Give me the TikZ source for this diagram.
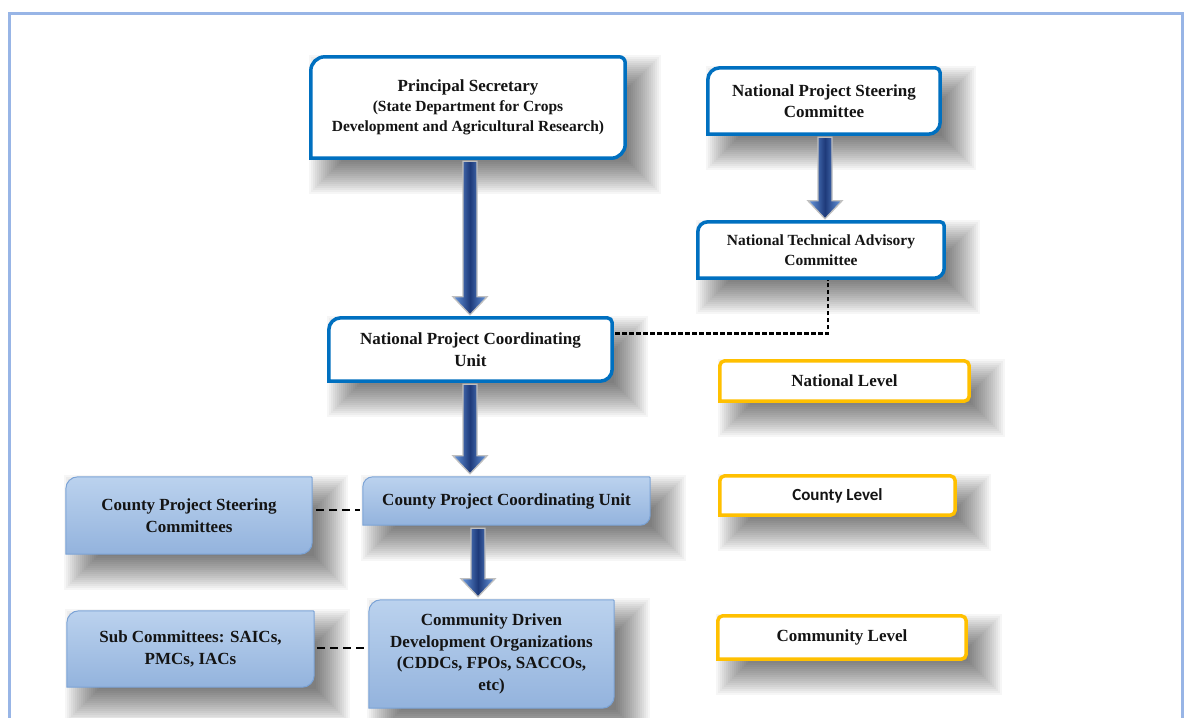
\documentclass[tikz,border=0pt]{standalone}
\usepackage{fontspec}
\setmainfont{Liberation Serif}
\newfontfamily\carl{Carlito}
\usetikzlibrary{calc}
\pgfdeclarelayer{shad}
\pgfdeclarelayer{boxes}
\pgfsetlayers{shad,boxes,main}
\definecolor{dblue}{HTML}{0070C0}
\definecolor{ybord}{HTML}{FFC000}
\definecolor{ltop}{HTML}{BBD2EE}
\definecolor{lbot}{HTML}{93B3DD}
\definecolor{lbord}{HTML}{7BA3D6}
\definecolor{frame}{HTML}{98B5E6}
\definecolor{aedge}{HTML}{6A9BE2}
\definecolor{amid}{HTML}{1E3A7A}
\newcommand\bxpath[3]{(#1.south west) -- ([yshift=-#2]#1.north west) arc[start angle=180,end angle=90,radius=#2] -- ([xshift=-#3]#1.north east) arc[start angle=90,end angle=0,radius=#3] -- ([yshift=#2]#1.south east) arc[start angle=0,end angle=-90,radius=#2] -- cycle}
\newcommand\softshadow[1]{%
  \foreach \kk in {0,...,17}{%
    \fill[black, opacity=0.035] let \p1=(#1.north west), \p2=(#1.south east) in
      (\x1-2pt+\kk*2pt, \y1+2pt-\kk*2pt) rectangle (\x2+36pt-\kk*2pt, \y2-36pt+\kk*2pt);}}
\newcommand\fatarrow[3]{%
  \path[fatarrowstyle] let \p1=(#1.south -| #3), \p2=(#2.north -| #3) in
  (\x1-7pt,\y1-3pt) -- (\x1+7pt,\y1-3pt) -- (\x1+7pt,\y2+21pt) -- (\x1+17pt,\y2+21pt)
  -- (\x1,\y2+3pt) -- (\x1-17pt,\y2+21pt) -- (\x1-7pt,\y2+21pt) -- cycle;}
\begin{document}
\begin{tikzpicture}[x=1pt,y=-1pt,
  base/.style={inner sep=0pt, align=center, text=black!92,
    font=\bfseries\fontsize{17}{21.5}\selectfont},
  darkbox/.style={draw=dblue, line width=3.5pt, fill=white},
  yellowbox/.style={draw=ybord, line width=3.5pt, fill=white},
  lightbox/.style={draw=lbord, line width=1pt, top color=ltop, bottom color=lbot},
  fatarrowstyle/.style={draw=gray!50, line width=1.3pt, line join=miter,
    left color=aedge, right color=aedge, middle color=amid},
  dashthin/.style={draw=black, line width=2.2pt, dash pattern=on 4.5pt off 2.5pt},
  dashthick/.style={draw=black, line width=2.6pt, dash pattern=on 8pt off 5pt}
]
\useasboundingbox (0,0) rectangle (1187,718);

% nodes
\node[base, minimum width=314pt, minimum height=101pt] (ps) at (468,107.5)
  {Principal Secretary\\[-2pt]
   {\fontsize{15.5}{19.5}\selectfont (State Department for Crops}\\[-1.5pt]
   {\fontsize{15.5}{19.5}\selectfont Development and Agricultural Research)}};
\node[base, minimum width=232pt, minimum height=66pt] (npsc) at (824,101)
  {National Project Steering\\Committee};
\node[base, minimum width=246pt, minimum height=56pt,
  font=\bfseries\fontsize{15.5}{20.5}\selectfont] (ntac) at (821,250)
  {National Technical Advisory\\Committee};
\node[base, minimum width=283pt, minimum height=63pt] (npcu) at (470.5,349.5)
  {National Project Coordinating\\Unit};
\node[base, minimum width=249pt, minimum height=40pt] (natl) at (844.5,381)
  {National Level};
\node[base, minimum width=235pt, minimum height=39pt,
  font=\carl\bfseries\fontsize{17}{20}\selectfont] (cntl) at (837.5,495.5)
  {County Level};
\node[base, minimum width=248pt, minimum height=43pt] (comml) at (842,637.5)
  {Community Level};
\node[base, minimum width=246pt, minimum height=77pt] (cpsc) at (189,515.5)
  {County Project Steering\\Committees};
\node[base, minimum width=287pt, minimum height=48pt] (cpcu) at (506.5,501)
  {County Project Coordinating Unit};
\node[base, minimum width=247pt, minimum height=76pt] (sub) at (190.5,649)
  {Sub Committees: SAICs,\\PMCs, IACs};
\node[base, minimum width=245pt, minimum height=108pt] (cddo) at (491.5,654)
  {Community Driven\\Development Organizations\\(CDDCs, FPOs, SACCOs,\\etc)};

% background and shadows
\begin{pgfonlayer}{shad}
\fill[white] (0,0) rectangle (1187,718);
\draw[frame, line width=3pt] (9,725) -- (9,13) -- (1182,13) -- (1182,725);
\softshadow{ps}
\softshadow{npsc}
\softshadow{ntac}
\softshadow{npcu}
\softshadow{natl}
\softshadow{cntl}
\softshadow{comml}
\softshadow{cpsc}
\softshadow{cpcu}
\softshadow{sub}
\softshadow{cddo}
\end{pgfonlayer}

% boxes
\begin{pgfonlayer}{boxes}
\path[darkbox] \bxpath{ps}{14pt}{6pt};
\path[darkbox] \bxpath{npsc}{12pt}{5pt};
\path[darkbox] \bxpath{ntac}{10pt}{4pt};
\path[darkbox] \bxpath{npcu}{12pt}{5pt};
\path[yellowbox] \bxpath{natl}{5pt}{5pt};
\path[yellowbox] \bxpath{cntl}{5pt}{5pt};
\path[yellowbox] \bxpath{comml}{5pt}{5pt};
\path[lightbox] \bxpath{cpsc}{12pt}{1pt};
\path[lightbox] \bxpath{cpcu}{10pt}{1pt};
\path[lightbox] \bxpath{sub}{12pt}{1pt};
\path[lightbox] \bxpath{cddo}{12pt}{1pt};
\end{pgfonlayer}

% arrows
\coordinate (colA) at (470,0);
\coordinate (colB) at (825,0);
\coordinate (colC) at (478,0);
\fatarrow{ps}{npcu}{colA}
\fatarrow{npsc}{ntac}{colB}
\fatarrow{npcu}{cpcu}{colA}
\fatarrow{cpcu}{cddo}{colC}

% dashed connectors
\coordinate (d0) at ([yshift=16pt]npcu.east);
\coordinate (d0b) at ([xshift=7pt]ntac.south);
\draw[dashthin] ([xshift=3pt]d0) -| ([yshift=-2pt]d0b);
\coordinate (d1) at ([yshift=5.5pt]cpsc.east);
\draw[dashthick, shorten <=4pt, shorten >=3pt] (d1) -- (d1 -| cpcu.west);
\coordinate (d2) at ([yshift=1pt]sub.east);
\draw[dashthick, shorten <=3pt, shorten >=2pt] (d2) -- (d2 -| cddo.west);
\end{tikzpicture}
\end{document}
